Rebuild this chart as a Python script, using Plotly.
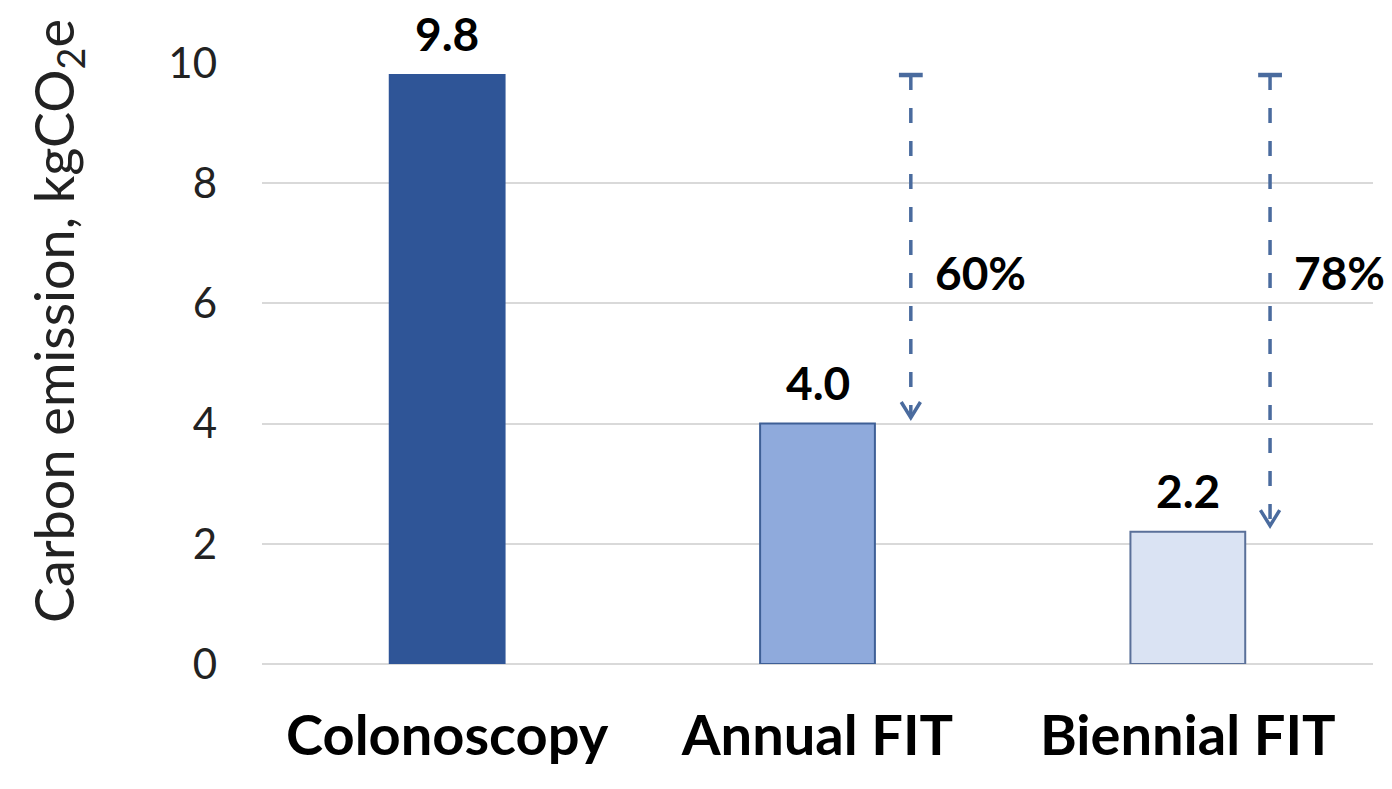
import plotly.graph_objects as go

# Carbon footprint per screening strategy
categories = ["Colonoscopy", "Annual FIT", "Biennial FIT"]
emissions = [9.8, 4.0, 2.2]
value_labels = ["9.8", "4.0", "2.2"]

# Reduction versus colonoscopy, shown beside the dashed arrows
reduction_targets = [1, 2]          # index of the category each arrow points to
reduction_labels = ["60%", "78%"]

FONT = "Lato"
fills = ["#2F5597", "#8FAADC", "#DAE3F3"]
edges = ["#2F5597", "#3E5F96", "#5A7099"]
ARROW = "#4A6B9E"

xs = list(range(len(categories)))

fig = go.Figure()
fig.add_trace(go.Bar(
    x=xs, y=emissions, width=0.31,
    marker=dict(color=fills, line=dict(color=edges, width=2)),
    hoverinfo="skip", showlegend=False,
))

# value labels above bars
for i, (v, t) in enumerate(zip(emissions, value_labels)):
    fig.add_annotation(x=i, y=v, text=f"<b>{t}</b>", showarrow=False,
                       xref="x", yref="y", yanchor="bottom", yshift=12,
                       font=dict(family=FONT, size=46, color="#000000"))

# dashed reduction arrows from the colonoscopy level down to each FIT bar
arrow_offsets = [0.252, 0.222]
tip_gap = 0.1
head_dx, head_dy = 0.026, 0.26
top = emissions[0]
for k, idx in enumerate(reduction_targets):
    ax = idx + arrow_offsets[k]
    tip = emissions[idx] + tip_gap
    fig.add_trace(go.Scatter(
        x=[ax, ax], y=[top, tip + 0.05], mode="lines",
        line=dict(color=ARROW, width=3.5, dash="15px,18px"),
        hoverinfo="skip", showlegend=False,
    ))
    # bar cap at the top
    fig.add_trace(go.Scatter(
        x=[ax], y=[top], mode="markers",
        marker=dict(symbol="line-ew", size=17, line=dict(color=ARROW, width=4.5)),
        hoverinfo="skip", showlegend=False,
    ))
    # open arrow head
    fig.add_trace(go.Scatter(
        x=[ax - head_dx, ax, ax + head_dx],
        y=[tip + head_dy, tip, tip + head_dy], mode="lines",
        line=dict(color=ARROW, width=3.5),
        hoverinfo="skip", showlegend=False,
    ))
    fig.add_annotation(x=ax + 0.06, y=6.52, text=f"<b>{reduction_labels[k]}</b>",
                       showarrow=False, xref="x", yref="y",
                       xanchor="left", yanchor="middle",
                       font=dict(family=FONT, size=46, color="#000000"))

# axis title
fig.add_annotation(
    text="Carbon emission, kgCO<sub>2</sub>e", textangle=-90,
    xref="paper", yref="paper", x=-0.184, y=0.57,
    xanchor="center", yanchor="middle", showarrow=False,
    font=dict(family=FONT, size=54, color="#222222"),
)

fig.update_layout(
    width=1392, height=789,
    margin=dict(l=262, r=19, t=63, b=125),
    paper_bgcolor="white", plot_bgcolor="white",
    font=dict(family=FONT, color="#222222"),
)
fig.update_xaxes(
    range=[-0.5, 2.5], tickvals=xs,
    ticktext=[f"<b>{c}</b>" for c in categories],
    tickfont=dict(family=FONT, size=56, color="#000000"),
    showgrid=False, zeroline=False, showline=False, ticks="",
    ticklabelstandoff=34,
)
fig.update_yaxes(
    range=[0, 10], tickvals=[0, 2, 4, 6, 8, 10],
    tickfont=dict(family=FONT, size=42, color="#222222"),
    showgrid=True, gridcolor="#D9D9D9", gridwidth=2,
    zeroline=True, zerolinecolor="#D9D9D9", zerolinewidth=2,
    showline=False, ticks="", ticklabelstandoff=44,
)

fig.write_html("out.html")
